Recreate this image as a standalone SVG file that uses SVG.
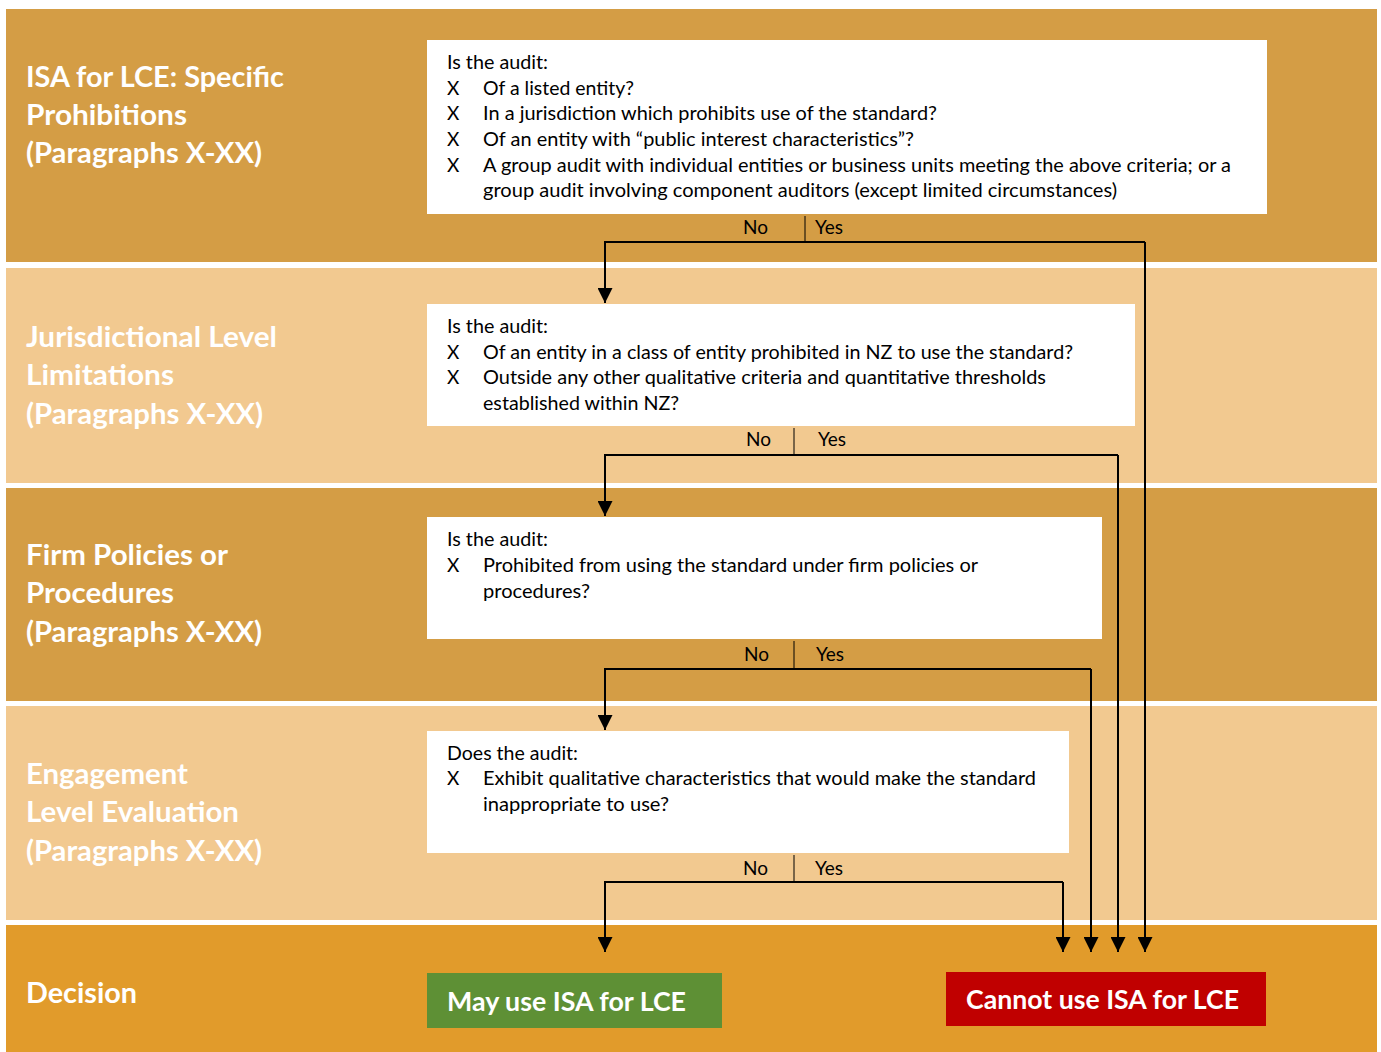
<svg xmlns="http://www.w3.org/2000/svg" width="1381" height="1052" viewBox="0 0 1381 1052">
  <style>
    .bandD { fill: #D49D45; }
    .bandL { fill: #F2C990; }
    .bandO { fill: #E19B2B; }
    .box { fill: #FFFFFF; }
    .title { font-family: Lato, "Open Sans", "Liberation Sans", sans-serif; font-weight: bold; font-size: 28px; fill: #FFFFFF; }
    .body { font-family: Lato, "Open Sans", "Liberation Sans", sans-serif; font-size: 19px; fill: #000000; }
    .yn { font-family: Lato, "Open Sans", "Liberation Sans", sans-serif; font-size: 19px; fill: #000000; }
    .dec { font-family: Lato, "Open Sans", "Liberation Sans", sans-serif; font-weight: bold; font-size: 26px; fill: #FFFFFF; }
    .flow { fill: none; stroke: #000000; stroke-width: 2; }
    .div { fill: none; stroke: #000000; stroke-width: 1; }
  </style>
  <defs>
    <marker id="arrow" viewBox="0 0 15 15" refX="15" refY="7.5" markerWidth="15" markerHeight="15" markerUnits="userSpaceOnUse" orient="auto">
      <path d="M0,0 L15,7.5 L0,15 z" fill="#000000"/>
    </marker>
  </defs>
  <rect x="0" y="0" width="1381" height="1052" fill="#FFFFFF"/>

  <g id="band-1">
    <rect class="bandD" x="6" y="9" width="1371" height="253"/>
    <text class="title" x="26" y="87" textLength="258" lengthAdjust="spacingAndGlyphs">ISA for LCE: Specific</text>
    <text class="title" x="26" y="125" textLength="161" lengthAdjust="spacingAndGlyphs">Prohibitions</text>
    <text class="title" x="26" y="163" textLength="236" lengthAdjust="spacingAndGlyphs">(Paragraphs X-XX)</text>
  </g>
  <g id="band-2">
    <rect class="bandL" x="6" y="268" width="1371" height="215"/>
    <text class="title" x="26" y="347" textLength="251" lengthAdjust="spacingAndGlyphs">Jurisdictional Level</text>
    <text class="title" x="26" y="385" textLength="148" lengthAdjust="spacingAndGlyphs">Limitations</text>
    <text class="title" x="26" y="424" textLength="237" lengthAdjust="spacingAndGlyphs">(Paragraphs X-XX)</text>
  </g>
  <g id="band-3">
    <rect class="bandD" x="6" y="488" width="1371" height="213"/>
    <text class="title" x="26" y="565" textLength="202" lengthAdjust="spacingAndGlyphs">Firm Policies or</text>
    <text class="title" x="26" y="603" textLength="148" lengthAdjust="spacingAndGlyphs">Procedures</text>
    <text class="title" x="26" y="642" textLength="236" lengthAdjust="spacingAndGlyphs">(Paragraphs X-XX)</text>
  </g>
  <g id="band-4">
    <rect class="bandL" x="6" y="706" width="1371" height="214"/>
    <text class="title" x="26" y="784" textLength="162" lengthAdjust="spacingAndGlyphs">Engagement</text>
    <text class="title" x="26" y="822" textLength="213" lengthAdjust="spacingAndGlyphs">Level Evaluation</text>
    <text class="title" x="26" y="861" textLength="236" lengthAdjust="spacingAndGlyphs">(Paragraphs X-XX)</text>
  </g>
  <g id="band-5">
    <rect class="bandO" x="6" y="925" width="1371" height="127"/>
    <text class="title" x="26" y="1003" textLength="111" lengthAdjust="spacingAndGlyphs">Decision</text>
  </g>

  <g id="q1">
    <rect class="box" x="427" y="40" width="840" height="174"/>
    <text class="body" x="447" y="69" textLength="101" lengthAdjust="spacingAndGlyphs">Is the audit:</text>
    <text class="body" x="447" y="95">X</text>
    <text class="body" x="483" y="95" textLength="151" lengthAdjust="spacingAndGlyphs">Of a listed entity?</text>
    <text class="body" x="447" y="120">X</text>
    <text class="body" x="483" y="120" textLength="454" lengthAdjust="spacingAndGlyphs">In a jurisdiction which prohibits use of the standard?</text>
    <text class="body" x="447" y="146">X</text>
    <text class="body" x="483" y="146" textLength="431" lengthAdjust="spacingAndGlyphs">Of an entity with “public interest characteristics”?</text>
    <text class="body" x="447" y="172">X</text>
    <text class="body" x="483" y="172" textLength="748" lengthAdjust="spacingAndGlyphs">A group audit with individual entities or business units meeting the above criteria; or a</text>
    <text class="body" x="483" y="197" textLength="634" lengthAdjust="spacingAndGlyphs">group audit involving component auditors (except limited circumstances)</text>
  </g>
  <g id="q2">
    <rect class="box" x="427" y="304" width="708" height="122"/>
    <text class="body" x="447" y="333" textLength="101" lengthAdjust="spacingAndGlyphs">Is the audit:</text>
    <text class="body" x="447" y="359">X</text>
    <text class="body" x="483" y="359" textLength="590" lengthAdjust="spacingAndGlyphs">Of an entity in a class of entity prohibited in NZ to use the standard?</text>
    <text class="body" x="447" y="384">X</text>
    <text class="body" x="483" y="384" textLength="563" lengthAdjust="spacingAndGlyphs">Outside any other qualitative criteria and quantitative thresholds</text>
    <text class="body" x="483" y="410" textLength="196" lengthAdjust="spacingAndGlyphs">established within NZ?</text>
  </g>
  <g id="q3">
    <rect class="box" x="427" y="517" width="675" height="122"/>
    <text class="body" x="447" y="546" textLength="101" lengthAdjust="spacingAndGlyphs">Is the audit:</text>
    <text class="body" x="447" y="572">X</text>
    <text class="body" x="483" y="572" textLength="495" lengthAdjust="spacingAndGlyphs">Prohibited from using the standard under firm policies or</text>
    <text class="body" x="483" y="598" textLength="107" lengthAdjust="spacingAndGlyphs">procedures?</text>
  </g>
  <g id="q4">
    <rect class="box" x="427" y="731" width="642" height="122"/>
    <text class="body" x="447" y="760" textLength="131" lengthAdjust="spacingAndGlyphs">Does the audit:</text>
    <text class="body" x="447" y="785">X</text>
    <text class="body" x="483" y="785" textLength="553" lengthAdjust="spacingAndGlyphs">Exhibit qualitative characteristics that would make the standard</text>
    <text class="body" x="483" y="811" textLength="186" lengthAdjust="spacingAndGlyphs">inappropriate to use?</text>
  </g>

  <g id="may-use">
    <rect x="427" y="973" width="295" height="55" fill="#5E9035"/>
    <text class="dec" x="447" y="1011" textLength="239" lengthAdjust="spacingAndGlyphs">May use ISA for LCE</text>
  </g>
  <g id="cannot-use">
    <rect x="946" y="972" width="320" height="54" fill="#C00000"/>
    <text class="dec" x="966" y="1009" textLength="273" lengthAdjust="spacingAndGlyphs">Cannot use ISA for LCE</text>
  </g>

  <g id="connectors">
    <!-- set 1 -->
    <line class="div" x1="805" y1="216" x2="805" y2="242"/>
    <text class="yn" x="743" y="234">No</text>
    <text class="yn" x="815" y="234">Yes</text>
    <path class="flow" d="M1145,242 H605 V303" marker-end="url(#arrow)"/>
    <path class="flow" d="M1145,242 V952" marker-end="url(#arrow)"/>
    <!-- set 2 -->
    <line class="div" x1="794" y1="428" x2="794" y2="455"/>
    <text class="yn" x="746" y="446">No</text>
    <text class="yn" x="818" y="446">Yes</text>
    <path class="flow" d="M1118,455 H605 V516" marker-end="url(#arrow)"/>
    <path class="flow" d="M1118,455 V952" marker-end="url(#arrow)"/>
    <!-- set 3 -->
    <line class="div" x1="794" y1="641" x2="794" y2="669"/>
    <text class="yn" x="744" y="661">No</text>
    <text class="yn" x="816" y="661">Yes</text>
    <path class="flow" d="M1091,669 H605 V730" marker-end="url(#arrow)"/>
    <path class="flow" d="M1091,669 V952" marker-end="url(#arrow)"/>
    <!-- set 4 -->
    <line class="div" x1="794" y1="855" x2="794" y2="882"/>
    <text class="yn" x="743" y="875">No</text>
    <text class="yn" x="815" y="875">Yes</text>
    <path class="flow" d="M1063,882 H605 V952" marker-end="url(#arrow)"/>
    <path class="flow" d="M1063,882 V952" marker-end="url(#arrow)"/>
  </g>
</svg>
